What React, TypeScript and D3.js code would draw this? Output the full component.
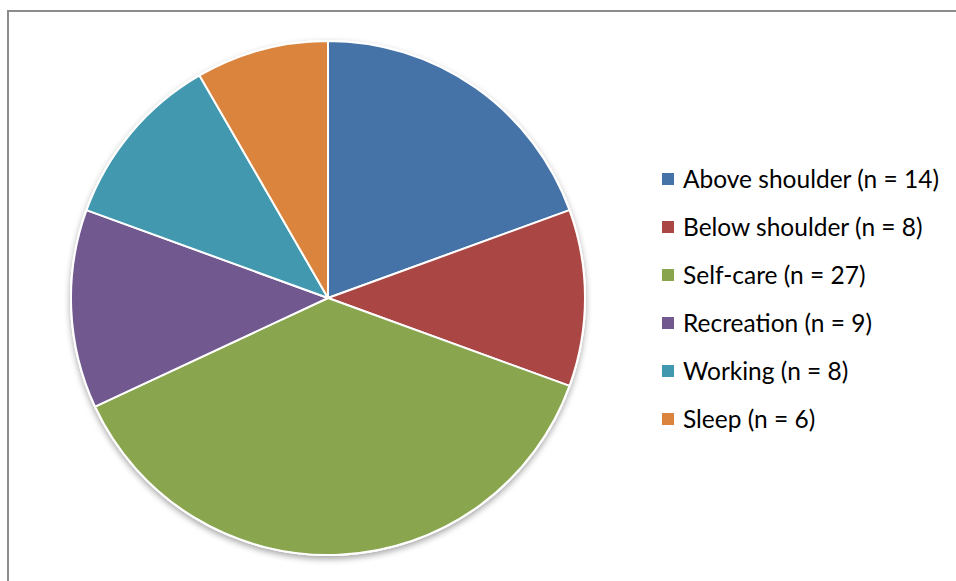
import React from "react";
import * as d3 from "d3";

const categories = ["Above shoulder", "Below shoulder", "Self-care", "Recreation", "Working", "Sleep"];
const values = [14, 8, 27, 9, 8, 6];
const colors = ["#4572A7", "#AA4643", "#89A54E", "#71588F", "#4198AF", "#DB843D"];

const W = 956;
const H = 581;
const cx = 328;
const cy = 298;
const R = 257;

export default function App() {
  const pie = d3.pie<number>().sort(null).value((d) => d)(values);
  const arc = d3.arc<d3.PieArcDatum<number>>().innerRadius(0).outerRadius(R);
  const legendX = 662;
  const legendY0 = 179;
  const legendStep = 48;
  return (
    <svg width={W} height={H} style={{ position: "absolute", left: 0, top: 0 }}>
      <defs>
        <filter id="sh" x="-20%" y="-20%" width="140%" height="140%">
          <feDropShadow dx="0" dy="3" stdDeviation="3" floodColor="#000" floodOpacity="0.35" />
        </filter>
      </defs>
      <rect x={0} y={0} width={W} height={H} fill="#fff" />
      <rect x={8} y={11} width={W + 20} height={H + 20} fill="#fff" stroke="#8c8c8c" strokeWidth={2} />
      <g transform={`translate(${cx},${cy})`}>
        <circle r={R + 1} fill="#fff" filter="url(#sh)" />
        {pie.map((p, i) => (
          <path key={i} d={arc(p) || ""} fill={colors[i]} stroke="#fff" strokeWidth={2} strokeLinejoin="round" />
        ))}
      </g>
      <g style={{ fontFamily: "Lato, 'Open Sans', sans-serif", fontSize: 24.5 }}>
        {categories.map((c, i) => (
          <g key={c} transform={`translate(${legendX},${legendY0 + i * legendStep})`}>
            <rect x={0} y={-6} width={12} height={12} fill={colors[i]} />
            <text x={21} y={0} dy="0.35em" fill="#000">{`${c} (n = ${values[i]})`}</text>
          </g>
        ))}
      </g>
    </svg>
  );
}
